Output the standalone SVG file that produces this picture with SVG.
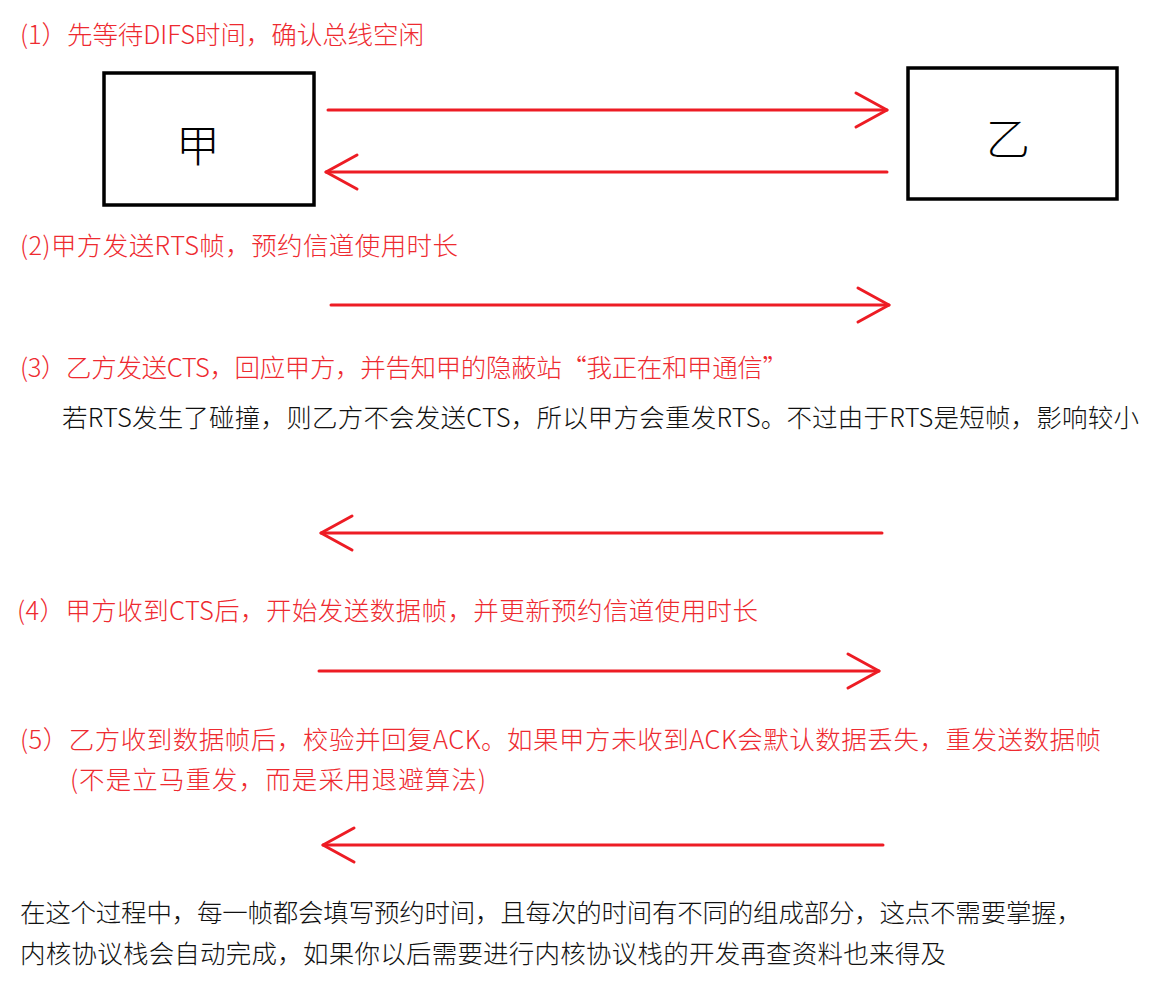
<svg xmlns="http://www.w3.org/2000/svg" width="1149" height="986" viewBox="0 0 1149 986">
<defs>
<style>
.t{font-family:"Noto Sans CJK SC","Noto Sans",sans-serif;font-size:25.5px;font-weight:300}
.r{fill:#ee2a30}
.k{fill:#111}
.box{fill:#fff;stroke:#000;stroke-width:3.5}
.lbl{font-family:"Noto Sans CJK SC",sans-serif;font-size:44px;font-weight:300;fill:#000;text-anchor:middle}
.ar{stroke:#ed1c24;stroke-width:3;fill:none;stroke-linecap:round;marker-end:url(#ah)}
</style>
<marker id="ah" markerUnits="userSpaceOnUse" markerWidth="40" markerHeight="40" refX="0" refY="0" viewBox="-35 -20 40 40" orient="auto" overflow="visible">
<path d="M -31 -17 L 0 0 L -31 17" fill="none" stroke="#ed1c24" stroke-width="3" stroke-linecap="round" stroke-linejoin="round"/>
</marker>
</defs>
<rect width="1149" height="986" fill="#fff"/>
<g id="texts">
<text class="t r" x="20" y="44" textLength="404" lengthAdjust="spacing">(1）先等待DIFS时间，确认总线空闲</text>
<text class="t r" x="20" y="255" textLength="438" lengthAdjust="spacing">(2)甲方发送RTS帧，预约信道使用时长</text>
<text class="t r" x="20" y="377" textLength="768" lengthAdjust="spacing">(3）乙方发送CTS，回应甲方，并告知甲的隐蔽站“我正在和甲通信”</text>
<text class="t k" x="62" y="427" textLength="1077" lengthAdjust="spacing">若RTS发生了碰撞，则乙方不会发送CTS，所以甲方会重发RTS。不过由于RTS是短帧，影响较小</text>
<text class="t r" x="17" y="620" textLength="741" lengthAdjust="spacing">(4）甲方收到CTS后，开始发送数据帧，并更新预约信道使用时长</text>
<text class="t r" x="20" y="749" textLength="1081" lengthAdjust="spacing">(5）乙方收到数据帧后，校验并回复ACK。如果甲方未收到ACK会默认数据丢失，重发送数据帧</text>
<text class="t r" x="70" y="789" textLength="416" lengthAdjust="spacing">(不是立马重发，而是采用退避算法)</text>
<text class="t k" x="20" y="922" textLength="1062" lengthAdjust="spacing">在这个过程中，每一帧都会填写预约时间，且每次的时间有不同的组成部分，这点不需要掌握，</text>
<text class="t k" x="20" y="963" textLength="926" lengthAdjust="spacing">内核协议栈会自动完成，如果你以后需要进行内核协议栈的开发再查资料也来得及</text>
</g>
<g id="node-jia">
<rect class="box" x="104" y="73" width="210" height="132"/>
<text class="lbl" x="198" y="162">甲</text>
</g>
<g id="node-yi">
<rect class="box" x="908" y="68" width="209" height="131"/>
<text class="lbl" x="1008" y="155">乙</text>
</g>
<g id="connectors">
<line class="ar" x1="328" y1="110" x2="887" y2="110"/>
<line class="ar" x1="887" y1="172" x2="326" y2="172"/>
<line class="ar" x1="331" y1="305" x2="889" y2="305"/>
<line class="ar" x1="882" y1="533" x2="321" y2="533"/>
<line class="ar" x1="319" y1="671" x2="879" y2="671"/>
<line class="ar" x1="883" y1="845" x2="323" y2="845"/>
</g>
</svg>
